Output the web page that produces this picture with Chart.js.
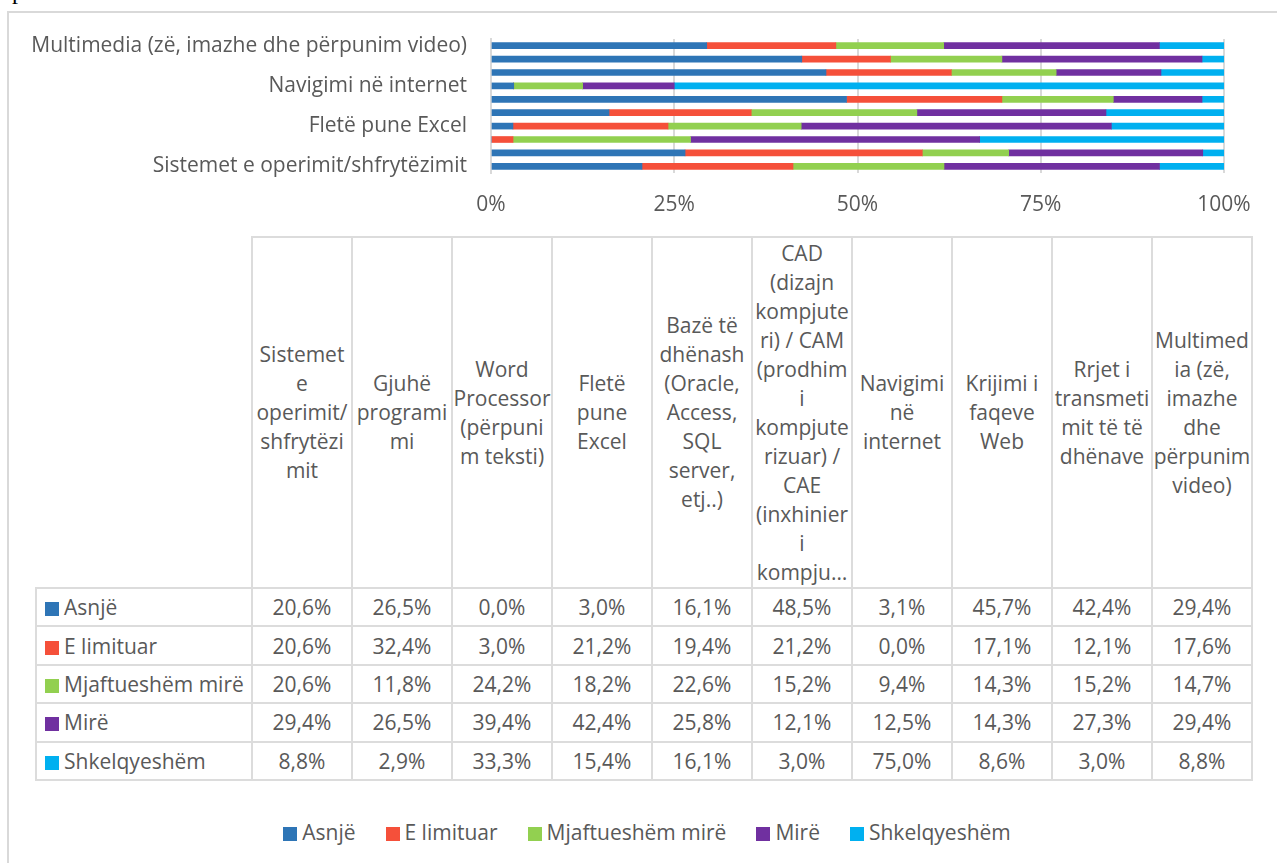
<!DOCTYPE html>
<html>
<head>
<meta charset="utf-8">
<script src="https://cdn.jsdelivr.net/npm/chart.js@4/dist/chart.umd.min.js"></script>
<style>
  body { margin: 0; background: #fff; width: 1277px; height: 863px; overflow: hidden; position: relative; font-family: 'Open Sans', sans-serif; color: #595959; }
  #docP { position: absolute; left: 12px; top: -21px; font: 24px/24px 'Liberation Serif', serif; color: #000; }
  #frame { position: absolute; left: 7px; top: 11px; width: 1300px; height: 900px; border-left: 2px solid #d9d9d9; border-top: 2px solid #d9d9d9; }
  #chartBox { position: absolute; left: 0; top: 0; width: 1277px; height: 230px; }
  #dataTable { position: absolute; left: 35px; top: 236px; border-collapse: collapse; table-layout: fixed; font-size: 21px; }
  #dataTable td { border: 2px solid #dcdcdc; text-align: center; vertical-align: middle; padding: 0; white-space: nowrap; height: 36.4px; }
  #dataTable tr.head td { height: 349px; line-height: 29px; }
  #dataTable tr.head td.corner { border-top: none; border-left: none; }
  #dataTable td.key { text-align: left; padding-left: 8px; }
  .sq { display: inline-block; width: 14px; height: 14px; margin-right: 5px; vertical-align: -1px; }
  #legend { position: absolute; left: 7px; top: 818px; width: 1280px; display: flex; justify-content: center; font-size: 21px; line-height: 28px; }
  #legend span.item { margin: 0 15px; white-space: nowrap; }
</style>
</head>
<body>
<div id="docP">p</div>
<div id="frame"></div>
<div id="chartBox"><canvas id="chart" width="1277" height="230"></canvas></div>
<table id="dataTable"></table>
<div id="legend"></div>
<script>
// categories, bottom to top in the bar chart, left to right in the table
var categories = [
  'Sistemet e operimit/shfrytëzimit',
  'Gjuhë programimi',
  'Word Processor (përpunim teksti)',
  'Fletë pune Excel',
  'Bazë të dhënash (Oracle, Access, SQL server, etj..)',
  'CAD (dizajn kompjuteri) / CAM (prodhim i kompjuterizuar) / CAE (inxhinieri i kompjuterizuar)',
  'Navigimi në internet',
  'Krijimi i faqeve Web',
  'Rrjet i transmetimit të të dhënave',
  'Multimedia (zë, imazhe dhe përpunim video)'
];

// column headings as they wrap in the data table
var headerLines = [
  ['Sistemet', 'e', 'operimit/', 'shfrytëzi', 'mit'],
  ['Gjuhë', 'programi', 'mi'],
  ['Word', 'Processor', '(përpuni', 'm teksti)'],
  ['Fletë', 'pune', 'Excel'],
  ['Bazë të', 'dhënash', '(Oracle,', 'Access,', 'SQL', 'server,', 'etj..)'],
  ['CAD', '(dizajn', 'kompjute', 'ri) / CAM', '(prodhim', 'i', 'kompjute', 'rizuar) /', 'CAE', '(inxhinier', 'i', 'kompju…'],
  ['Navigimi', 'në', 'internet'],
  ['Krijimi i', 'faqeve', 'Web'],
  ['Rrjet i', 'transmeti', 'mit të të', 'dhënave'],
  ['Multimed', 'ia (zë,', 'imazhe', 'dhe', 'përpunim', 'video)']
];

var seriesNames = ['Asnjë', 'E limituar', 'Mjaftueshëm mirë', 'Mirë', 'Shkelqyeshëm'];
var seriesColors = ['#2E75B6', '#F5503A', '#92D050', '#7030A0', '#00B0F0'];

var asnje        = [20.6, 26.5,  0.0,  3.0, 16.1, 48.5,  3.1, 45.7, 42.4, 29.4];
var eLimituar    = [20.6, 32.4,  3.0, 21.2, 19.4, 21.2,  0.0, 17.1, 12.1, 17.6];
var mjaftueshem  = [20.6, 11.8, 24.2, 18.2, 22.6, 15.2,  9.4, 14.3, 15.2, 14.7];
var mire         = [29.4, 26.5, 39.4, 42.4, 25.8, 12.1, 12.5, 14.3, 27.3, 29.4];
var shkelqyeshem = [ 8.8,  2.9, 33.3, 15.4, 16.1,  3.0, 75.0,  8.6,  3.0,  8.8];

var xTicks = [0, 25, 50, 75, 100];

var series = [asnje, eLimituar, mjaftueshem, mire, shkelqyeshem];

// 100% stacked: scale every category to its own total
var totals = categories.map(function (c, i) {
  var s = 0;
  series.forEach(function (arr) { s += arr[i]; });
  return s;
});

var datasets = series.map(function (arr, k) {
  return {
    label: seriesNames[k],
    data: arr.map(function (v, i) { return v / totals[i] * 100; }),
    backgroundColor: seriesColors[k],
    borderWidth: 0,
    barThickness: 6
  };
});

Chart.defaults.font.family = "'Open Sans', sans-serif";
Chart.defaults.font.size = 21;
Chart.defaults.color = '#595959';

new Chart(document.getElementById('chart'), {
  type: 'bar',
  data: { labels: categories, datasets: datasets },
  options: {
    indexAxis: 'y',
    responsive: false,
    animation: false,
    devicePixelRatio: 1,
    layout: { padding: { top: 39, right: 53, bottom: 0, left: 0 } },
    plugins: { legend: { display: false }, tooltip: { enabled: false } },
    scales: {
      x: {
        stacked: true,
        min: 0,
        max: 100,
        afterBuildTicks: function (s) { s.ticks = xTicks.map(function (v) { return { value: v }; }); },
        afterFit: function (s) { s.height = 57; },
        ticks: { padding: 19, callback: function (v) { return v + '%'; } },
        grid: { color: '#d9d9d9', lineWidth: 2, drawTicks: false },
        border: { display: false }
      },
      y: {
        stacked: true,
        reverse: true,
        afterFit: function (s) { s.width = 491; },
        ticks: {
          autoSkip: false,
          padding: 24,
          callback: function (v, i) { return i % 3 === 0 ? this.getLabelForValue(v) : ''; }
        },
        grid: { display: false, drawTicks: false },
        border: { display: true, color: '#d9d9d9', width: 2 }
      }
    }
  }
});

// data table under the chart
function fmt(v) { return v.toFixed(1).replace('.', ',') + '%'; }

var table = document.getElementById('dataTable');
var html = '<colgroup><col style="width:216px">';
categories.forEach(function () { html += '<col style="width:100px">'; });
html += '</colgroup><tr class="head"><td class="corner"></td>';
headerLines.forEach(function (lines) { html += '<td>' + lines.join('<br>') + '</td>'; });
html += '</tr>';
series.forEach(function (arr, k) {
  html += '<tr><td class="key"><span class="sq" style="background:' + seriesColors[k] + '"></span>' + seriesNames[k] + '</td>';
  arr.forEach(function (v) { html += '<td>' + fmt(v) + '</td>'; });
  html += '</tr>';
});
table.innerHTML = html;

// legend
var legend = document.getElementById('legend');
legend.innerHTML = seriesNames.map(function (n, k) {
  return '<span class="item"><span class="sq" style="background:' + seriesColors[k] + '"></span>' + n + '</span>';
}).join('');
</script>
</body>
</html>
